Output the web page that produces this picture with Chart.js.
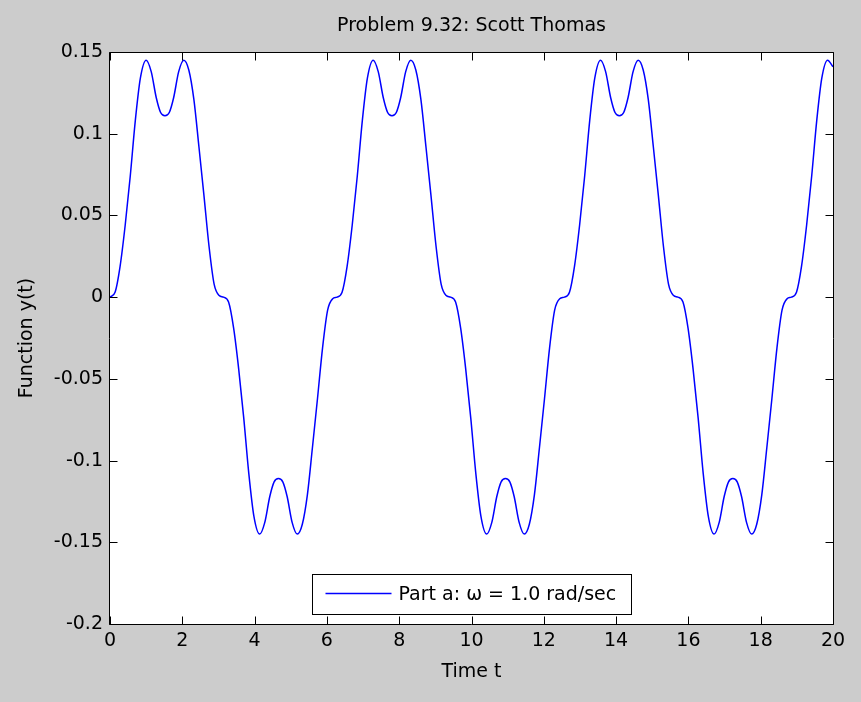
<!DOCTYPE html>
<html>
<head>
<meta charset="utf-8">
<script src="https://cdn.jsdelivr.net/npm/chart.js@4.4.1/dist/chart.umd.min.js"></script>
<style>
  html, body { margin: 0; padding: 0; background: #cccccc; }
  canvas { display: block; }
</style>
</head>
<body>
<canvas id="chart" width="861" height="702"></canvas>
<script>
const titleText = "Problem 9.32: Scott Thomas";
const xLabel = "Time t";
const yLabel = "Function y(t)";
const seriesName = "Part a: \u03c9 = 1.0 rad/sec";

const xTicks = [0, 2, 4, 6, 8, 10, 12, 14, 16, 18, 20];
const yTicks = [-0.2, -0.15, -0.1, -0.05, 0, 0.05, 0.1, 0.15];

// time samples
const timeT = [
  0, 0.14, 0.28, 0.42, 0.56, 0.70, 0.84, 1.00, 1.14, 1.28, 1.40, 1.52, 1.64, 1.76, 1.90, 2.04, 2.18, 2.32, 2.46, 2.60, 2.74, 2.88, 3.02,
  3.14, 3.28, 3.42, 3.56, 3.70, 3.84, 3.98, 4.14, 4.28, 4.42, 4.54, 4.66, 4.78, 4.90, 5.04, 5.18, 5.32, 5.46, 5.60, 5.74, 5.88, 6.02, 6.16,
  6.28, 6.42, 6.56, 6.70, 6.84, 6.98, 7.12, 7.28, 7.42, 7.56, 7.68, 7.80, 7.92, 8.04, 8.18, 8.32, 8.46, 8.60, 8.74, 8.88, 9.02, 9.16, 9.30,
  9.42, 9.56, 9.70, 9.84, 9.98, 10.12, 10.26, 10.42, 10.56, 10.70, 10.82, 10.94, 11.06, 11.18, 11.32, 11.46, 11.60, 11.74, 11.88, 12.02, 12.16, 12.30, 12.44,
  12.57, 12.71, 12.85, 12.99, 13.13, 13.27, 13.41, 13.57, 13.71, 13.85, 13.97, 14.09, 14.21, 14.33, 14.47, 14.61, 14.75, 14.89, 15.03, 15.17, 15.31, 15.45, 15.59,
  15.71, 15.85, 15.99, 16.13, 16.27, 16.41, 16.55, 16.71, 16.85, 16.99, 17.11, 17.23, 17.35, 17.47, 17.61, 17.75, 17.89, 18.03, 18.17, 18.31, 18.45, 18.59, 18.73,
  18.85, 18.99, 19.13, 19.27, 19.41, 19.55, 19.69, 19.85, 20.00
];

// y(t) at those times
const funcY = [
  0, 0.003, 0.019, 0.044, 0.074, 0.108, 0.134, 0.145, 0.138, 0.122, 0.113, 0.111, 0.113, 0.122, 0.138, 0.145, 0.139, 0.121, 0.092, 0.062, 0.031, 0.008, 0.001,
  0, -0.003, -0.019, -0.044, -0.074, -0.108, -0.134, -0.145, -0.138, -0.122, -0.113, -0.111, -0.113, -0.122, -0.138, -0.145, -0.139, -0.121, -0.092, -0.062, -0.031, -0.008, -0.001,
  0, 0.003, 0.019, 0.044, 0.074, 0.108, 0.134, 0.145, 0.138, 0.122, 0.113, 0.111, 0.113, 0.122, 0.138, 0.145, 0.139, 0.121, 0.092, 0.062, 0.031, 0.008, 0.001,
  0, -0.003, -0.019, -0.044, -0.074, -0.108, -0.134, -0.145, -0.138, -0.122, -0.113, -0.111, -0.113, -0.122, -0.138, -0.145, -0.139, -0.121, -0.092, -0.062, -0.031, -0.008, -0.001,
  0, 0.003, 0.019, 0.044, 0.074, 0.108, 0.134, 0.145, 0.138, 0.122, 0.113, 0.111, 0.113, 0.122, 0.138, 0.145, 0.139, 0.121, 0.092, 0.062, 0.031, 0.008, 0.001,
  0, -0.003, -0.019, -0.044, -0.074, -0.108, -0.134, -0.145, -0.138, -0.122, -0.113, -0.111, -0.113, -0.122, -0.138, -0.145, -0.139, -0.121, -0.092, -0.062, -0.031, -0.008, -0.001,
  0, 0.003, 0.019, 0.044, 0.074, 0.108, 0.134, 0.145, 0.141
];

const fontFamily = "'DejaVu Sans', sans-serif";
const lineColor = "#0000ff";

Chart.defaults.font.family = fontFamily;
Chart.defaults.font.size = 19;
Chart.defaults.color = "#000";

// box, inward ticks, legend and title (MATLAB look)
const framePlugin = {
  id: "frame",
  beforeDraw(chart) {
    const { ctx, chartArea: a } = chart;
    ctx.save();
    ctx.fillStyle = "#cccccc";
    ctx.fillRect(0, 0, chart.width, chart.height);
    ctx.fillStyle = "#ffffff";
    ctx.fillRect(a.left, a.top, a.right - a.left, a.bottom - a.top);
    ctx.restore();
  },
  afterDraw(chart) {
    const { ctx, chartArea: a, scales } = chart;
    const L = a.left - 0.5, R = a.right + 0.5, T = a.top + 0.5, B = a.bottom + 0.5;
    const tick = 8;
    ctx.save();
    ctx.strokeStyle = "#000";
    ctx.lineWidth = 1;
    ctx.beginPath();
    ctx.rect(L, T, R - L, B - T);
    scales.x.ticks.forEach(t => {
      const px = Math.round(scales.x.getPixelForValue(t.value)) + 0.5;
      ctx.moveTo(px, B); ctx.lineTo(px, B - tick);
      ctx.moveTo(px, T); ctx.lineTo(px, T + tick);
    });
    scales.y.ticks.forEach(t => {
      const py = Math.round(scales.y.getPixelForValue(t.value)) + 0.5;
      ctx.moveTo(L, py); ctx.lineTo(L + tick, py);
      ctx.moveTo(R, py); ctx.lineTo(R - tick, py);
    });
    ctx.stroke();

    // legend box, location south
    const w = 319, h = 40;
    const cx = (a.left + a.right) / 2;
    const lx = Math.round(cx - w / 2) + 0.5;
    const ly = Math.round(a.bottom - 10 - h) + 0.5;
    ctx.fillStyle = "#fff";
    ctx.fillRect(lx, ly, w, h);
    ctx.strokeRect(lx, ly, w, h);
    ctx.beginPath();
    ctx.strokeStyle = lineColor;
    ctx.lineWidth = 1.5;
    ctx.moveTo(lx + 13, ly + 19);
    ctx.lineTo(lx + 79, ly + 19);
    ctx.stroke();
    ctx.fillStyle = "#000";
    ctx.font = "19px " + fontFamily;
    ctx.textAlign = "left";
    ctx.textBaseline = "middle";
    ctx.fillText(seriesName, lx + 86, ly + 21);

    // title
    ctx.textAlign = "center";
    ctx.textBaseline = "alphabetic";
    ctx.fillText(titleText, cx, 31);
    ctx.restore();
  }
};

new Chart(document.getElementById("chart"), {
  type: "line",
  data: {
    datasets: [{
      label: seriesName,
      data: timeT.map((t, i) => ({ x: t, y: funcY[i] })),
      borderColor: lineColor,
      borderWidth: 1.5,
      pointRadius: 0,
      cubicInterpolationMode: "monotone",
      fill: false
    }]
  },
  options: {
    responsive: false,
    animation: false,
    devicePixelRatio: 1,
    layout: { padding: { top: 52, right: 28, left: 0, bottom: 0 } },
    plugins: {
      legend: { display: false },
      title: { display: false },
      tooltip: { enabled: false }
    },
    scales: {
      x: {
        type: "linear",
        min: 0,
        max: 20,
        afterBuildTicks: s => { s.ticks = xTicks.map(v => ({ value: v })); },
        afterFit: s => { s.height = 78; },
        grid: { display: false, drawTicks: false },
        border: { display: false },
        ticks: { padding: 6, maxRotation: 0, autoSkip: false, callback: v => String(v) },
        title: { display: true, text: xLabel, padding: { top: 0, bottom: 19 } }
      },
      y: {
        type: "linear",
        min: -0.2,
        max: 0.15,
        afterBuildTicks: s => { s.ticks = yTicks.map(v => ({ value: v })); },
        afterFit: s => { s.width = 110; },
        grid: { display: false, drawTicks: false },
        border: { display: false },
        ticks: { padding: 7, autoSkip: false, callback: v => String(v) },
        title: { display: true, text: yLabel, padding: { top: 16, bottom: 0 } }
      }
    }
  },
  plugins: [framePlugin]
});
</script>
</body>
</html>
